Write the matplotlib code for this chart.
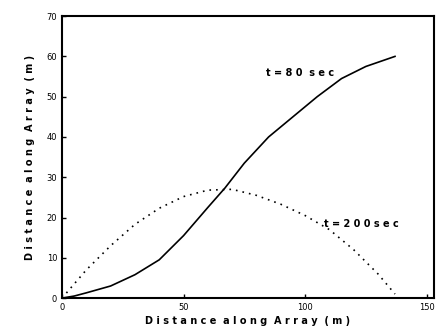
import matplotlib
matplotlib.use("Agg")
import matplotlib.pyplot as plt

x80 = [0, 5, 10, 20, 30, 40, 50, 60, 67, 75, 85, 95, 105, 115, 125, 137]
y80 = [0, 0.5, 1.3, 3.0, 5.8, 9.5, 15.5, 22.5, 27.3, 33.5, 40.0, 45.0, 50.0, 54.5, 57.5, 60.0]

x200 = [0, 10, 20, 30, 40, 50, 60, 70, 80, 90, 100, 110, 120, 130, 137]
y200 = [0, 7, 13, 18.3, 22.3, 25.2, 26.8, 27.0, 25.5, 23.3, 20.5, 17.0, 12.0, 6.0, 1.0]

xticks = [0, 50, 100, 150]
yticks = [0, 10, 20, 30, 40, 50, 60, 70]

fig = plt.figure(figsize=(4.38, 3.29), dpi=100)
ax = fig.add_axes([0.1416, 0.094, 0.849, 0.857])
ax.plot(x80, y80, color="black", lw=1.2)
ax.plot(x200, y200, color="black", lw=1.2, ls=(0, (1, 3)))
ax.set_xlim(0, 153)
ax.set_ylim(0, 70)
ax.set_xticks(xticks)
ax.set_yticks(yticks)
ax.tick_params(direction="in", length=3, labelsize=6, width=1)
for s in ax.spines.values():
    s.set_linewidth(1.5)
label = "D i s t a n c e  a l o n g  A r r a y  ( m )"
ax.set_xlabel(label, fontsize=7, fontweight="bold", labelpad=3)
ax.set_ylabel(label, fontsize=7, fontweight="bold", labelpad=8)
ax.text(98, 56, "t = 8 0  s e c", fontsize=7, fontweight="bold", ha="center", va="center")
ax.text(123, 18.3, "t = 2 0 0 s e c", fontsize=7, fontweight="bold", ha="center", va="center")
fig.savefig("out.png", dpi=100)
